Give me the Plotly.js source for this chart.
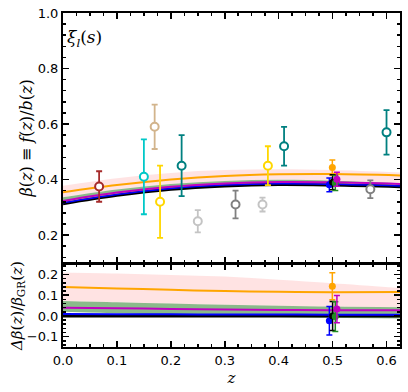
<!DOCTYPE html>
<html>
<head>
<meta charset="utf-8">
<script src="https://cdn.plot.ly/plotly-3.0.1.min.js"></script>
<style>
  html, body { margin: 0; padding: 0; background: #fff; }
  #chart { width: 408px; height: 392px; }
</style>
</head>
<body>
<div id="chart"></div>
<script>
// redshift grid for the model curves
var zGrid = [0, 0.1, 0.2, 0.3, 0.4, 0.5, 0.625];

// beta(z) model curves (top panel)
var betaBlack   = [0.313, 0.343, 0.365, 0.377, 0.382, 0.380, 0.374];
var betaBlue    = [0.316, 0.346, 0.368, 0.380, 0.385, 0.383, 0.377];
var betaMagenta = [0.323, 0.353, 0.374, 0.386, 0.391, 0.390, 0.384];
var betaOrange  = [0.354, 0.380, 0.400, 0.413, 0.419, 0.420, 0.415];
var betaGreenLo = [0.318, 0.347, 0.369, 0.381, 0.386, 0.384, 0.377];
var betaGreenHi = [0.336, 0.364, 0.384, 0.395, 0.399, 0.396, 0.387];
var betaPinkLo  = [0.336, 0.364, 0.384, 0.395, 0.399, 0.396, 0.388];
var betaPinkHi  = [0.378, 0.405, 0.424, 0.434, 0.437, 0.434, 0.425];

// relative deviation curves (bottom panel)
var dBlack   = [0, 0, 0, 0, 0, 0, 0];
var dBlue    = [0.009, 0.008, 0.008, 0.007, 0.007, 0.006, 0.006];
var dMagenta = [0.040, 0.037, 0.034, 0.031, 0.029, 0.028, 0.027];
var dOrange  = [0.140, 0.133, 0.126, 0.120, 0.117, 0.115, 0.116];
var dGreenLo = [0.020, 0.013, 0.006, 0.000, -0.005, -0.009, -0.012];
var dGreenHi = [0.072, 0.066, 0.060, 0.054, 0.049, 0.045, 0.042];
var dPinkLo  = [0.072, 0.066, 0.060, 0.054, 0.049, 0.045, 0.042];
var dPinkHi  = [0.210, 0.205, 0.198, 0.190, 0.175, 0.158, 0.135];

// literature measurements (open circles)
var litZ    = [0.067, 0.15, 0.17, 0.18, 0.22, 0.25, 0.32, 0.37, 0.38, 0.41, 0.57, 0.60];
var litBeta = [0.375, 0.41, 0.59, 0.32, 0.45, 0.25, 0.31, 0.31, 0.45, 0.52, 0.365, 0.57];
var litErr  = [0.055, 0.135, 0.08, 0.13, 0.11, 0.04, 0.05, 0.025, 0.07, 0.07, 0.032, 0.08];
var litColor = ['#a52a2a', '#00c8c8', '#d2b48c', '#ffd700', '#008080', '#c4c4c4',
                '#808080', '#c4c4c4', '#ffd700', '#008080', '#808080', '#008080'];

// this work (filled points near z = 0.5)
var ownZ     = [0.4995, 0.494, 0.500, 0.505, 0.508];
var ownBeta  = [0.443, 0.381, 0.390, 0.388, 0.401];
var ownErr   = [0.027, 0.025, 0.027, 0.027, 0.025];
var ownDelta = [0.143, -0.023, 0.000, -0.003, 0.033];
var ownDErr  = [0.065, 0.069, 0.070, 0.072, 0.066];
var ownColor = ['#ffa500', '#0000ff', '#000000', '#228b22', '#c000c0'];

var traces = [];

function band(x, lo, hi, col, xa, ya) {
    traces.push({x: x, y: lo, xaxis: xa, yaxis: ya, mode: 'lines', line: {width: 0, shape: 'spline'},
                 hoverinfo: 'skip', showlegend: false});
    traces.push({x: x, y: hi, xaxis: xa, yaxis: ya, mode: 'lines', line: {width: 0, shape: 'spline'},
                 fill: 'tonexty', fillcolor: col, hoverinfo: 'skip', showlegend: false});
}
function curve(x, y, col, w, xa, ya) {
    traces.push({x: x, y: y, xaxis: xa, yaxis: ya, mode: 'lines',
                 line: {color: col, width: w, shape: 'spline'}, showlegend: false});
}

// top panel
band(zGrid, betaPinkLo, betaPinkHi, 'rgba(255,192,192,0.45)', 'x2', 'y2');
band(zGrid, betaGreenLo, betaGreenHi, 'rgba(60,140,60,0.6)', 'x2', 'y2');
curve(zGrid, betaBlack, '#000000', 3, 'x2', 'y2');
curve(zGrid, betaBlue, '#0000ff', 1.5, 'x2', 'y2');
curve(zGrid, betaMagenta, '#c000c0', 2, 'x2', 'y2');
curve(zGrid, betaOrange, '#ffa500', 2, 'x2', 'y2');

// bottom panel
band(zGrid, dPinkLo, dPinkHi, 'rgba(255,192,192,0.45)', 'x', 'y');
band(zGrid, dGreenLo, dGreenHi, 'rgba(60,140,60,0.6)', 'x', 'y');
curve(zGrid, dBlack, '#000000', 3, 'x', 'y');
curve(zGrid, dBlue, '#0000ff', 2, 'x', 'y');
curve(zGrid, dMagenta, '#c000c0', 2, 'x', 'y');
curve(zGrid, dOrange, '#ffa500', 2, 'x', 'y');

for (var i = 0; i < litZ.length; i++) {
    traces.push({
        x: [litZ[i]], y: [litBeta[i]], xaxis: 'x2', yaxis: 'y2', mode: 'markers', showlegend: false,
        marker: {symbol: 'circle', size: 8, color: '#ffffff', line: {color: litColor[i], width: 2}},
        error_y: {type: 'data', array: [litErr[i]], color: litColor[i], thickness: 1.8, width: 3}
    });
}
for (var j = 0; j < ownZ.length; j++) {
    traces.push({
        x: [ownZ[j]], y: [ownBeta[j]], xaxis: 'x2', yaxis: 'y2', mode: 'markers', showlegend: false,
        marker: {symbol: 'circle', size: 7, color: ownColor[j]},
        error_y: {type: 'data', array: [ownErr[j]], color: ownColor[j], thickness: 1.5, width: 3}
    });
    traces.push({
        x: [ownZ[j]], y: [ownDelta[j]], xaxis: 'x', yaxis: 'y', mode: 'markers', showlegend: false,
        marker: {symbol: 'circle', size: 7, color: ownColor[j]},
        error_y: {type: 'data', array: [ownDErr[j]], color: ownColor[j], thickness: 1.5, width: 3}
    });
}

var tickFont = {family: 'DejaVu Sans', size: 13, color: '#000'};

function axisStyle(extra) {
    var a = {
        showline: true, linecolor: '#000', linewidth: 2, mirror: 'ticks',
        ticks: 'inside', ticklen: 6, tickwidth: 1.5, tickcolor: '#000',
        showgrid: false, zeroline: false, tickfont: tickFont
    };
    for (var k in extra) a[k] = extra[k];
    return a;
}

var layout = {
    width: 408, height: 392,
    margin: {l: 63, r: 8, t: 13, b: 45},
    paper_bgcolor: '#fff', plot_bgcolor: '#fff',
    showlegend: false,
    xaxis: axisStyle({
        range: [0, 0.625], dtick: 0.1, tickformat: '.1f', anchor: 'y',
        minor: {dtick: 0.025, ticks: 'inside', ticklen: 3, tickcolor: '#000'},
        title: {text: '<i>z</i>', font: {family: 'DejaVu Serif', size: 15, color: '#000'}, standoff: 6}
    }),
    xaxis2: axisStyle({
        range: [0, 0.625], dtick: 0.1, anchor: 'y2', matches: 'x', showticklabels: false,
        minor: {dtick: 0.025, ticks: 'inside', ticklen: 3, tickcolor: '#000'}
    }),
    yaxis: axisStyle({
        domain: [0, 0.248], range: [-0.15, 0.25], dtick: 0.1, tickformat: '.1f',
        minor: {dtick: 0.02, ticks: 'inside', ticklen: 3, tickcolor: '#000'},
        title: {text: '<i>Δβ</i>(<i>z</i>)/<i>β</i><sub>GR</sub>(<i>z</i>)',
                font: {family: 'DejaVu Serif', size: 15, color: '#000'}, standoff: 1}
    }),
    yaxis2: axisStyle({
        domain: [0.252, 1], range: [0.1, 1.0], tickvals: [0.2, 0.4, 0.6, 0.8, 1.0], tickformat: '.1f',
        minor: {dtick: 0.04, ticks: 'inside', ticklen: 3, tickcolor: '#000'},
        title: {text: '<i>β</i>(<i>z</i>) ≡ <i>f</i>(<i>z</i>)/<i>b</i>(<i>z</i>)',
                font: {family: 'DejaVu Serif', size: 16, color: '#000'}, standoff: 1}
    }),
    annotations: [{
        xref: 'paper', yref: 'paper', x: 0.005, y: 0.925, xanchor: 'left', yanchor: 'middle',
        text: '<i>ξ</i><sub><i>l</i></sub>(<i>s</i>)', showarrow: false,
        font: {family: 'DejaVu Serif', size: 17, color: '#000'}
    }]
};

Plotly.newPlot('chart', traces, layout, {displayModeBar: false, staticPlot: true});
</script>
</body>
</html>
